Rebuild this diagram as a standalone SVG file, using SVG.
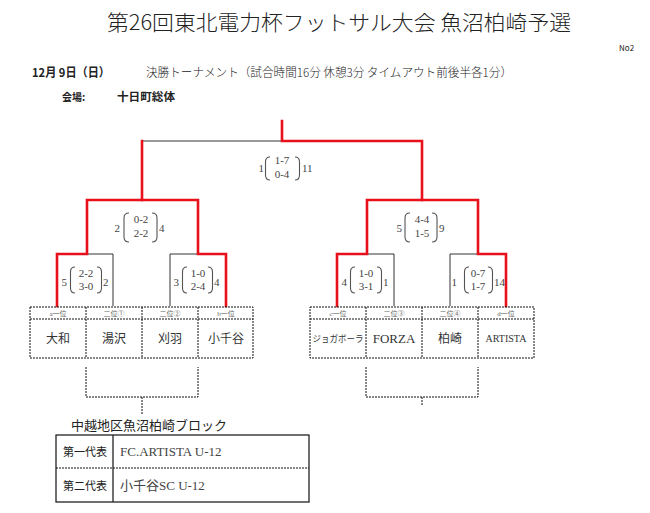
<svg xmlns="http://www.w3.org/2000/svg" width="650" height="513" viewBox="0 0 650 513">
<style>
.jp{font-family:"Noto Sans CJK JP","Noto Sans",sans-serif;fill:#222}
.sf{font-family:"Liberation Serif","Noto Sans CJK JP",serif;fill:#444}
.ln{stroke:#333;stroke-width:1;fill:none}
.rd{stroke:#e8101a;stroke-width:2.6;fill:none;stroke-linecap:square}
.br{stroke:#555;stroke-width:1.1;fill:none}
.dash{stroke:#111;stroke-width:1;fill:none;stroke-dasharray:2,1}
.sc{font-size:11px;text-anchor:middle}
.sn{font-size:11px}
.lbl{font-size:7px;fill:#666;text-anchor:middle}
.tm{font-size:12px;text-anchor:middle;fill:#333}
</style>
<rect width="650" height="513" fill="#fff"/>
<g id="header">
<text class="jp" x="107" y="30" font-size="21" font-weight="300" textLength="464" lengthAdjust="spacingAndGlyphs">第26回東北電力杯フットサル大会 魚沼柏崎予選</text>
<text class="jp" x="619" y="51" font-size="8" fill="#333">No2</text>
<text class="jp" x="32" y="77" font-size="12" font-weight="bold" textLength="78" lengthAdjust="spacingAndGlyphs">12月 9日（日）</text>
<text class="jp" x="146" y="77" font-size="12" font-weight="300" textLength="366" lengthAdjust="spacingAndGlyphs">決勝トーナメント（試合時間16分 休憩3分 タイムアウト前後半各1分）</text>
<text class="jp" x="62" y="101" font-size="10" font-weight="bold">会場:</text>
<text class="jp" x="117" y="101" font-size="11" font-weight="bold" textLength="58" lengthAdjust="spacingAndGlyphs">十日町総体</text>
</g>
<g id="connectors">
<path class="ln" d="M142,141H282 M87,200H142 M87,254H113V306 M170,306V254H198 M367,200H422 M367,254H394V306 M450,306V254H478"/>
<path class="rd" d="M282,121V141H422V200H478V254H506V306"/>
<path class="rd" d="M142,141V200H198V254H226V306"/>
<path class="rd" d="M142,200H87V254H57V306"/>
<path class="rd" d="M422,200H367V254H337V306"/>
</g>
<g id="match-final">
<path class="br" d="M270,157Q265.5,157 265.5,162V175Q265.5,180 270,180 M295,157Q299.5,157 299.5,162V175Q299.5,180 295,180"/>
<text class="sf sn" x="264" y="172" text-anchor="end">1</text>
<text class="sf sc" x="282" y="164">1-7</text>
<text class="sf sc" x="282" y="178">0-4</text>
<text class="sf sn" x="302" y="172">11</text>
</g>
<g id="match-l2a">
<path class="br" d="M129,213Q124,213 124,218V237Q124,242 129,242 M152,213Q157,213 157,218V237Q157,242 152,242"/>
<text class="sf sn" x="120" y="232" text-anchor="end">2</text>
<text class="sf sc" x="141" y="223">0-2</text>
<text class="sf sc" x="141" y="237">2-2</text>
<text class="sf sn" x="159" y="232">4</text>
</g>
<g id="match-l2b">
<path class="br" d="M410,213Q405,213 405,218V237Q405,242 410,242 M432,213Q437,213 437,218V237Q437,242 432,242"/>
<text class="sf sn" x="402" y="232" text-anchor="end">5</text>
<text class="sf sc" x="422" y="223">4-4</text>
<text class="sf sc" x="422" y="237">1-5</text>
<text class="sf sn" x="439" y="232">9</text>
</g>
<g id="match-a">
<path class="br" d="M75,267Q70.5,267 70.5,272V288Q70.5,293 75,293 M97,267Q101.5,267 101.5,272V288Q101.5,293 97,293"/>
<text class="sf sn" x="67" y="286" text-anchor="end">5</text>
<text class="sf sc" x="86" y="277">2-2</text>
<text class="sf sc" x="86" y="290">3-0</text>
<text class="sf sn" x="103" y="286">2</text>
</g>
<g id="match-b">
<path class="br" d="M187,267Q182.5,267 182.5,272V288Q182.5,293 187,293 M208,267Q212.5,267 212.5,272V288Q212.5,293 208,293"/>
<text class="sf sn" x="179" y="286" text-anchor="end">3</text>
<text class="sf sc" x="198" y="277">1-0</text>
<text class="sf sc" x="198" y="290">2-4</text>
<text class="sf sn" x="214" y="286">4</text>
</g>
<g id="match-c">
<path class="br" d="M355,267Q350.5,267 350.5,272V288Q350.5,293 355,293 M377,267Q381.5,267 381.5,272V288Q381.5,293 377,293"/>
<text class="sf sn" x="347" y="286" text-anchor="end">4</text>
<text class="sf sc" x="366" y="277">1-0</text>
<text class="sf sc" x="366" y="290">3-1</text>
<text class="sf sn" x="383" y="286">1</text>
</g>
<g id="match-d">
<path class="br" d="M469,267Q464.5,267 464.5,272V288Q464.5,293 469,293 M488,267Q492.5,267 492.5,272V288Q492.5,293 488,293"/>
<text class="sf sn" x="457" y="286" text-anchor="end">1</text>
<text class="sf sc" x="478" y="277">0-7</text>
<text class="sf sc" x="478" y="290">1-7</text>
<text class="sf sn" x="494" y="286">14</text>
</g>
<g id="teams-left">
<rect class="dash" x="30" y="307" width="223" height="51"/>
<path class="dash" d="M30,319H253 M86,307V358 M142,307V358 M198,307V358"/>
<text class="sf lbl" x="58" y="316">a一位</text>
<text class="sf lbl" x="114" y="316">二位①</text>
<text class="sf lbl" x="170" y="316">二位②</text>
<text class="sf lbl" x="226" y="316">b一位</text>
<text class="jp tm" x="58" y="343">大和</text>
<text class="jp tm" x="114" y="343">湯沢</text>
<text class="jp tm" x="170" y="343">刈羽</text>
<text class="jp tm" x="226" y="343">小千谷</text>
</g>
<g id="teams-right">
<rect class="dash" x="310" y="307" width="224" height="51"/>
<path class="dash" d="M310,319H534 M366,307V358 M422,307V358 M478,307V358"/>
<text class="sf lbl" x="338" y="316">c一位</text>
<text class="sf lbl" x="394" y="316">二位③</text>
<text class="sf lbl" x="450" y="316">二位④</text>
<text class="sf lbl" x="506" y="316">d一位</text>
<text class="jp tm" x="338" y="342" style="font-size:8.6px" textLength="51" lengthAdjust="spacingAndGlyphs">ジョガボーラ</text>
<text class="sf tm" x="394" y="343" style="font-size:13px">FORZA</text>
<text class="jp tm" x="450" y="343">柏崎</text>
<text class="sf tm" x="506" y="342" style="font-size:10px">ARTISTA</text>
</g>
<g id="sub-brackets">
<path class="dash" d="M86,367V397H198V367 M142,397V415"/>
<path class="dash" d="M366,367V397H478V367 M422,397V405"/>
</g>
<g id="result-table">
<text class="jp" x="71" y="430" font-size="13" fill="#333">中越地区魚沼柏崎ブロック</text>
<rect x="56" y="435" width="253" height="67" fill="none" stroke="#222" stroke-width="1.3"/>
<path d="M113,435V502" stroke="#222" stroke-width="1.3"/>
<path class="dash" d="M56,468H309"/>
<text class="jp" x="63" y="456" font-size="11" fill="#444">第一代表</text>
<text class="sf" x="120" y="456" font-size="13" fill="#333">FC.ARTISTA U-12</text>
<text class="jp" x="63" y="490" font-size="11" fill="#444">第二代表</text>
<text class="sf" x="120" y="490" font-size="13" fill="#333">小千谷SC U-12</text>
</g>
</svg>
